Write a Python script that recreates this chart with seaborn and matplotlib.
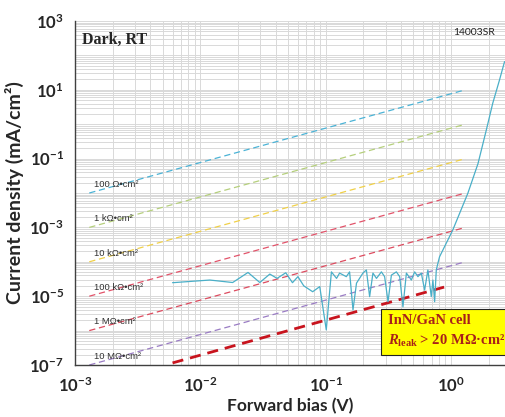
import matplotlib
matplotlib.use("Agg")
import matplotlib.pyplot as plt
import matplotlib.ticker as mticker
import numpy as np
import pandas as pd
import seaborn as sns

bias_v = [0.0060, 0.0119, 0.0181, 0.0240, 0.0298, 0.0358, 0.0409, 0.048, 0.0543, 0.060,
          0.0668, 0.0787, 0.0896, 0.101, 0.111, 0.122, 0.129, 0.146, 0.155, 0.165,
          0.176, 0.198, 0.211, 0.224, 0.238, 0.254, 0.278, 0.295, 0.314, 0.334,
          0.366, 0.389, 0.413, 0.440, 0.482, 0.512, 0.544, 0.579, 0.615, 0.653,
          0.695, 0.716, 0.739, 0.762, 0.785, 0.809, 0.916, 1.03, 1.36, 1.64,
          1.91, 2.15, 2.43, 2.67]
current_density = [2.47e-5, 2.95e-5, 2.5e-5, 4.9e-5, 2.5e-5, 4.4e-5, 3.3e-5, 4.8e-5, 2.47e-5, 3.7e-5,
                   2.0e-5, 1.35e-5, 1.9e-5, 1.05e-6, 5.1e-5, 3.3e-5, 4.7e-5, 3.7e-5, 5.1e-5, 4.0e-6,
                   2.4e-5, 4.7e-5, 5.8e-5, 9.7e-6, 4.7e-5, 3.3e-5, 5.1e-5, 3.7e-5, 6.9e-6, 4.1e-5,
                   5.1e-5, 3.7e-5, 4.9e-6, 4.7e-5, 2.95e-5, 5.1e-5, 3.7e-5, 4.7e-5, 1.5e-5, 5.8e-5,
                   9.7e-6, 2.95e-5, 6.9e-6, 5.8e-5, 9.1e-5, 1.4e-4, 3.5e-4, 8.3e-4, 9.8e-3, 0.072,
                   0.68, 4.1, 19, 66]

# ohmic reference lines: label, start/end bias, start/end current density
res_labels = ["100 Ω•cm²", "1 kΩ•cm²", "10 kΩ•cm²", "100 kΩ•cm²", "1 MΩ•cm²", "10 MΩ•cm²"]
res_colors = ["#4BB3D6", "#B5CF7C", "#F0D048", "#E2536A", "#DD4B5F", "#9A7CC4"]
res_v0 = [1.3e-3] * 6
res_v1 = [1.3] * 6
res_j0 = [1e-2, 1e-3, 1e-4, 1e-5, 1e-6, 1e-7]
res_j1 = [10, 1, 0.1, 1e-2, 1e-3, 1e-4]

# leakage fit line
leak_v = [6.0e-3, 0.89]
leak_j = [1.15e-7, 1.86e-5]

sns.set_theme(style="white")
plt.rcParams["font.family"] = ["Lato", "DejaVu Sans"]
plt.rcParams["mathtext.fontset"] = "custom"
plt.rcParams["mathtext.rm"] = "Lato:bold"
plt.rcParams["mathtext.it"] = "Liberation Serif:bold:italic"
plt.rcParams["mathtext.bf"] = "Liberation Serif:bold"

fig = plt.figure(figsize=(5.05, 4.17), dpi=100)
ax = fig.add_axes([0.1485, 0.1247, 0.8515, 0.8249])

for lab, col, v0, v1, j0, j1 in zip(res_labels, res_colors, res_v0, res_v1, res_j0, res_j1):
    sns.lineplot(x=[v0, v1], y=[j0, j1], ax=ax, color=col, lw=0.9,
                 linestyle=(0, (5, 3)), estimator=None)
    ax.text(1.42e-3, j0 * 1.8, lab, fontsize=6.8, color="#333333", va="center", ha="left",
            family=["Liberation Sans", "DejaVu Sans"])

sns.lineplot(x=leak_v, y=leak_j, ax=ax, color="#C8141E", lw=2.0,
             linestyle=(0, (4, 2.5)), estimator=None)

curve = pd.DataFrame({"V": bias_v, "J": current_density})
sns.lineplot(data=curve, x="V", y="J", ax=ax, color="#4AAFC8", lw=0.9,
             estimator=None, sort=False)

ax.set_xscale("log")
ax.set_yscale("log")
ax.set_xlim(1e-3, 10 ** 0.43)
ax.set_ylim(1e-7, 1e3)

ax.xaxis.set_major_locator(mticker.LogLocator(base=10, numticks=20))
ax.xaxis.set_minor_locator(mticker.LogLocator(base=10, subs=np.arange(2, 10), numticks=50))
ax.yaxis.set_major_locator(mticker.LogLocator(base=10, numticks=20))
ax.yaxis.set_minor_locator(mticker.LogLocator(base=10, subs=np.arange(2, 10), numticks=50))
ax.xaxis.set_minor_formatter(mticker.NullFormatter())
ax.yaxis.set_minor_formatter(mticker.NullFormatter())


def xfmt(v, pos):
    e = int(round(np.log10(v)))
    return r"$\mathrm{10^{%d}}$" % e


def yfmt(v, pos):
    e = int(round(np.log10(v)))
    if e % 2 == 0:
        return ""
    return r"$\mathrm{10^{%d}}$" % e


ax.xaxis.set_major_formatter(mticker.FuncFormatter(xfmt))
ax.yaxis.set_major_formatter(mticker.FuncFormatter(yfmt))

ax.grid(True, which="both", color="#D9D9D9", lw=0.7)
ax.set_axisbelow(True)
for s in ["top", "right"]:
    ax.spines[s].set_visible(False)
for s in ["left", "bottom"]:
    ax.spines[s].set_color("#404040")
    ax.spines[s].set_linewidth(1.0)

ax.tick_params(axis="both", which="major", direction="out", length=6, width=1,
               color="#404040", labelsize=12, pad=2)
ax.tick_params(axis="both", which="minor", length=0)

ax.set_xlabel("Forward bias (V)", fontsize=12.5, fontweight="bold", labelpad=2)
ax.set_ylabel("Current density (mA/cm²)", fontsize=14, fontweight="bold", labelpad=4)

ax.text(0.016, 0.945, "Dark, RT", transform=ax.transAxes, fontsize=11.5,
        fontweight="bold", family="Liberation Serif", va="center", ha="left")
ax.text(0.977, 0.968, "14003SR", transform=ax.transAxes, fontsize=7.5,
        color="#222222", va="center", ha="right")

ax.text(0.727, 0.097, "InN/GaN cell\n" + r"$\mathit{R}_{\mathbf{leak}}$" + " > 20 MΩ·cm²",
        transform=ax.transAxes, fontsize=10.5, fontweight="bold", family="Liberation Serif",
        color="#A8201A", va="center", ha="left", linespacing=1.5,
        bbox=dict(boxstyle="square,pad=0.42", facecolor="#FFFF00", edgecolor="#222222", lw=0.8))

fig.savefig("out.png", dpi=100)
